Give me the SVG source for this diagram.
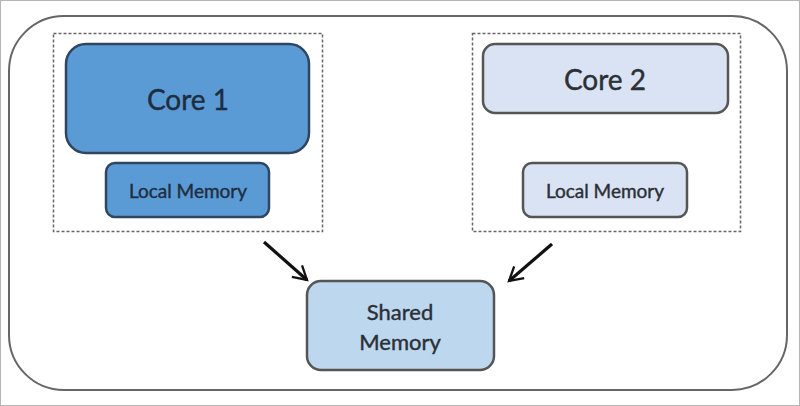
<svg xmlns="http://www.w3.org/2000/svg" width="800" height="406" viewBox="0 0 800 406">
<defs>
<marker id="ah" viewBox="0 0 10 10" refX="8.5" refY="5" markerWidth="6" markerHeight="6" orient="auto" markerUnits="strokeWidth">
<path d="M1.5,1 L8.5,5 L1.5,9" fill="none" stroke="#111" stroke-width="1.2" stroke-linejoin="miter"/>
</marker>
</defs>
<style>
text{font-family:Lato,"Open Sans","Liberation Sans",sans-serif;text-anchor:middle;dominant-baseline:central;fill:#2b2f36;stroke:#2b2f36;stroke-width:0.4}
.dash{fill:none;stroke:#666;stroke-width:1.5;stroke-dasharray:3 2}
.c1{fill:#5b9bd5;stroke:#2f4560;stroke-width:2.5}
.c2{fill:#dae3f3;stroke:#555;stroke-width:2.5}
.sm{fill:#bdd7ee;stroke:#555;stroke-width:2.5}
.conn{stroke:#111;stroke-width:3.2;fill:none;marker-end:url(#ah)}
.d{fill:#1f2d40;stroke:#1f2d40}
</style>
<rect x="0.5" y="0.5" width="799" height="405" fill="#fff" stroke="#b5b5b5" stroke-width="1"/>
<rect id="frame" x="9" y="16" width="778" height="374" rx="55" ry="55" fill="#fff" stroke="#666" stroke-width="2"/>
<g id="core1-group">
<rect x="53.5" y="33.5" width="269" height="198" class="dash"/>
</g>
<g id="core1">
<rect x="66" y="44" width="243" height="109" rx="20" class="c1"/>
<text x="188" y="99" font-size="28" class="d">Core 1</text>
</g>
<g id="local1">
<rect x="106" y="163" width="163" height="54" rx="9" class="c1"/>
<text x="188" y="190" font-size="19" class="d">Local Memory</text>
</g>
<g id="core2-group">
<rect x="472.5" y="33.5" width="268" height="198" class="dash"/>
</g>
<g id="core2">
<rect x="483" y="44" width="245" height="69" rx="12" class="c2"/>
<text x="605" y="79" font-size="28">Core 2</text>
</g>
<g id="local2">
<rect x="523" y="163" width="164" height="54" rx="9" class="c2"/>
<text x="605" y="190" font-size="19">Local Memory</text>
</g>
<g id="shared">
<rect x="307" y="281" width="187" height="89" rx="14" class="sm"/>
<text x="400" y="311" font-size="22">Shared</text>
<text x="400" y="341" font-size="22">Memory</text>
</g>
<g id="connectors">
<line x1="264" y1="242" x2="307" y2="280" class="conn"/>
<line x1="552" y1="244" x2="509" y2="281" class="conn"/>
</g>
</svg>
